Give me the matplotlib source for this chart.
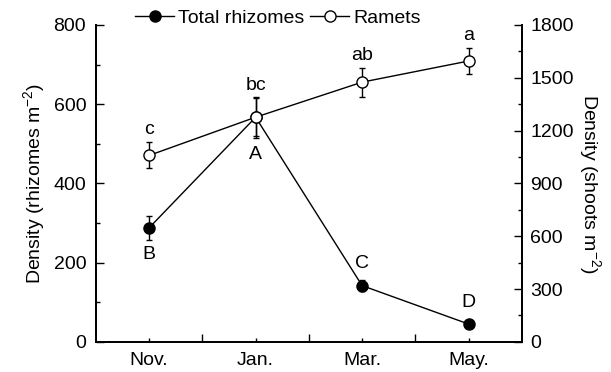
import matplotlib
matplotlib.use('Agg')
import matplotlib.pyplot as plt
from matplotlib.lines import Line2D
from matplotlib.ticker import MultipleLocator, FixedLocator, NullFormatter
import numpy as np

plt.rcParams['font.family'] = ['Liberation Sans', 'DejaVu Sans']
plt.rcParams['mathtext.fontset'] = 'custom'
plt.rcParams['mathtext.rm'] = 'Liberation Sans'
plt.rcParams['mathtext.it'] = 'Liberation Sans:italic'

months = ['Nov.', 'Jan.', 'Mar.', 'May.']
rhizomes = [288, 567, 142, 45]
rhizomes_err = [30, 52, 13, 5]
rhizome_letters = ['B', 'A', 'C', 'D']
rhizome_side = [-1, -1, 1, 1]
ramets = [1059, 1276, 1475, 1595]
ramets_err = [74, 108, 82, 73]
ramet_letters = ['c', 'bc', 'ab', 'a']

x = np.arange(len(months))
fs = 14

fig = plt.figure(figsize=(6.11, 3.72), dpi=100)
ax = fig.add_axes([0.157, 0.081, 0.697, 0.852])
ax2 = ax.twinx()

ax.errorbar(x, rhizomes, yerr=rhizomes_err, fmt='-o', color='black', ms=8,
            lw=1, elinewidth=1, capsize=2.5, capthick=1)
ax2.errorbar(x, ramets, yerr=ramets_err, fmt='-o', color='black', mfc='white',
             mec='black', ms=8, lw=1, elinewidth=1, capsize=2.5, capthick=1)

# significance letters
offs_rh = [11, 12, 12, 14]
for xi, v, e, s, t, o in zip(x, rhizomes, rhizomes_err, rhizome_side, rhizome_letters, offs_rh):
    ax.annotate(t, (xi, v + s * e), xytext=(0, s * o), textcoords='offset points',
                ha='center', va='center', fontsize=fs)
for xi, v, e, t in zip(x, ramets, ramets_err, ramet_letters):
    ax2.annotate(t, (xi, v + e), xytext=(0, 9), textcoords='offset points',
                 ha='center', va='center', fontsize=fs)

ax.set_xlim(-0.5, 3.5)
ax.set_ylim(0, 800)
ax2.set_ylim(0, 1800)
ax.yaxis.set_major_locator(MultipleLocator(200))
ax.yaxis.set_minor_locator(MultipleLocator(100))
ax2.yaxis.set_major_locator(MultipleLocator(300))
ax2.yaxis.set_minor_locator(MultipleLocator(150))

ax.xaxis.set_major_locator(FixedLocator([0.5, 1.5, 2.5]))
ax.xaxis.set_major_formatter(NullFormatter())
ax.set_xticks(x, months, minor=True)

for a in (ax, ax2):
    a.tick_params(which='both', direction='in', labelsize=fs, width=1)
    a.tick_params(which='major', length=6)
    a.tick_params(which='minor', length=3)
    for sp in a.spines.values():
        sp.set_linewidth(1.3)
    a.spines['top'].set_visible(False)
ax.tick_params(axis='y', pad=7)
ax2.tick_params(axis='y', pad=6)
ax.tick_params(axis='x', which='minor', pad=7)

ax.set_ylabel('Density (rhizomes m$^{-2}$)', fontsize=fs, labelpad=5)
ax2.set_ylabel('Density (shoots m$^{-2}$)', fontsize=fs, rotation=270, labelpad=21)

h1 = Line2D([], [], color='black', marker='o', ms=8, lw=1)
h2 = Line2D([], [], color='black', marker='o', mfc='white', ms=8, lw=1)
fig.legend([h1, h2], ['Total rhizomes', 'Ramets'], loc='center',
           bbox_to_anchor=(0.455, 0.952), ncol=2, frameon=False, fontsize=fs,
           handlelength=2.0, handletextpad=0.2, columnspacing=0.3, borderpad=0)

fig.savefig('out.png', dpi=100)
